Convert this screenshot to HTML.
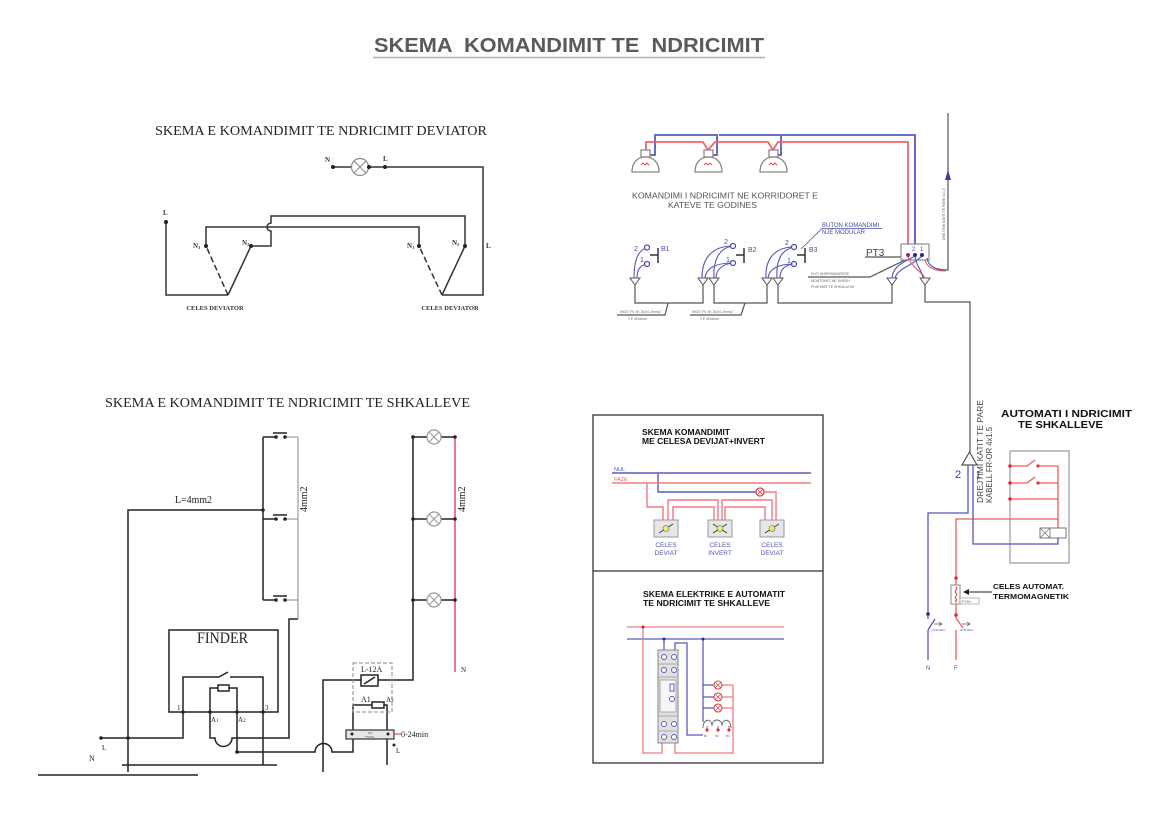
<!DOCTYPE html>
<html><head><meta charset="utf-8"><style>
html,body{margin:0;padding:0;background:#fff;}
svg{display:block;}
.ser{font-family:"Liberation Serif",serif;}
.san{font-family:"Liberation Sans",sans-serif;}
</style></head><body>
<svg width="1170" height="815" viewBox="0 0 1170 815" xmlns="http://www.w3.org/2000/svg">
<rect width="1170" height="815" fill="#fff"/>

<!-- Title -->
<text x="374" y="52" class="san" font-size="20" font-weight="bold" fill="#5a5a5a" style="white-space:pre" textLength="390" lengthAdjust="spacingAndGlyphs">SKEMA  KOMANDIMIT TE  NDRICIMIT</text>
<line x1="373" y1="57.5" x2="765" y2="57.5" stroke="#b0b0b0" stroke-width="1.5"/>

<!-- ============ DEVIATOR ============ -->
<text x="155" y="135" class="ser" font-size="14" fill="#222" textLength="332" lengthAdjust="spacingAndGlyphs">SKEMA E KOMANDIMIT TE NDRICIMIT DEVIATOR</text>
<g stroke="#333" stroke-width="1.5" fill="none">
  <line x1="333" y1="167" x2="351.5" y2="167"/>
  <path d="M368.5,167 H483 V295 H442"/>
  <path d="M166,222 V295 H228"/>
  <path d="M228,295 L251,246"/>
  <path d="M228,295 L206,246" stroke-dasharray="6,3"/>
  <path d="M206,246 V227 H419 V246"/>
  <path d="M251,246 H271 V231 A4,4 0 0 1 271,223 V216 H465 V246"/>
  <path d="M442,295 L465,246"/>
  <path d="M442,295 L419,246" stroke-dasharray="6,3"/>
</g>
<circle cx="360" cy="167" r="8.5" fill="#fff" stroke="#888" stroke-width="1.2"/>
<path d="M354,161 L366,173 M366,161 L354,173" stroke="#888" stroke-width="1"/>
<g fill="#222">
  <circle cx="333" cy="167" r="2"/><circle cx="369" cy="167" r="2"/><circle cx="385" cy="167" r="2"/>
  <circle cx="166" cy="222" r="2"/><circle cx="206" cy="246" r="2"/><circle cx="251" cy="246" r="2"/>
  <circle cx="419" cy="246" r="2"/><circle cx="465" cy="246" r="2"/>
</g>
<g class="ser" font-size="7" font-weight="bold" fill="#333">
  <text x="325" y="162">N</text><text x="383" y="161">L</text><text x="163" y="215">L</text>
  <text x="193" y="248">N<tspan font-size="4.5" dy="1">1</tspan></text>
  <text x="242" y="245">N<tspan font-size="4.5" dy="1">2</tspan></text>
  <text x="407" y="248">N<tspan font-size="4.5" dy="1">1</tspan></text>
  <text x="452" y="245">N<tspan font-size="4.5" dy="1">2</tspan></text>
  <text x="486" y="248">L</text>
  <text x="215" y="310" font-size="6.5" text-anchor="middle">CELES DEVIATOR</text>
  <text x="450" y="310" font-size="6.5" text-anchor="middle">CELES DEVIATOR</text>
</g>

<!-- ============ SHKALLEVE (left) ============ -->
<text x="105" y="407" class="ser" font-size="14" fill="#222" textLength="365" lengthAdjust="spacingAndGlyphs">SKEMA E KOMANDIMIT TE NDRICIMIT TE SHKALLEVE</text>
<g stroke="#222" stroke-width="1.5" fill="none">
  <line x1="263" y1="437" x2="263" y2="600"/>
  <line x1="263" y1="437" x2="276" y2="437"/><line x1="263" y1="519" x2="276" y2="519"/><line x1="263" y1="600" x2="276" y2="600"/>
  <line x1="273" y1="433" x2="287" y2="433"/><line x1="273" y1="515" x2="287" y2="515"/><line x1="273" y1="596" x2="287" y2="596"/>
  <path d="M128,772 V510 H263"/>
  <rect x="169" y="630" width="109" height="82"/>
  <path d="M183,712 V677 H219 M219,677 L228,672 M230,677 H263 V765"/>
  <path d="M210,712 V688 H218 M229,688 H237 V752 H315 A8.5,8.5 0 0 1 332,752 H353 V705 H372 M384,705 H387 V765"/>
  <rect x="218" y="685" width="11" height="6"/>
  <rect x="372" y="702" width="12" height="6"/>
  <path d="M210,712 V738 H215 A8.5,8.5 0 0 0 232,738 H289 V619 H298"/>
  <path d="M101,738 H183 V712"/>
  <line x1="122" y1="765" x2="277" y2="765"/>
  <line x1="38" y1="775" x2="198" y2="775"/>
  <path d="M323,772 V680 H361 M378,680 H413 V437"/>
  <rect x="361" y="675" width="17" height="11"/>
  <path d="M364,684 L375,677"/>
  <line x1="413" y1="437" x2="427" y2="437"/><line x1="441" y1="437" x2="455" y2="437"/>
  <line x1="413" y1="519" x2="427" y2="519"/><line x1="441" y1="519" x2="455" y2="519"/>
  <line x1="413" y1="600" x2="427" y2="600"/><line x1="441" y1="600" x2="455" y2="600"/>
</g>
<g stroke="#888" stroke-width="1" fill="none">
  <line x1="286" y1="437" x2="298" y2="437"/><line x1="286" y1="519" x2="298" y2="519"/><line x1="286" y1="600" x2="298" y2="600"/>
  <line x1="298" y1="437" x2="298" y2="619"/>
  <rect x="353" y="663" width="39" height="49" stroke-dasharray="4,2"/>
</g>
<rect x="346" y="730" width="48" height="9" fill="#e6e6e6" stroke="#333" stroke-width="1.2"/>
<text x="370" y="734" class="ser" font-size="3" fill="#555" text-anchor="middle">220</text>
<text x="370" y="738" class="ser" font-size="3" fill="#555" text-anchor="middle">FS0001</text>
<line x1="394" y1="734" x2="401" y2="734" stroke="#e8457a" stroke-width="1.2"/>
<line x1="455" y1="437" x2="455" y2="672" stroke="#e8457a" stroke-width="1.5"/>
<g fill="#fff" stroke="#999" stroke-width="1.2">
  <circle cx="434" cy="437" r="7"/><circle cx="434" cy="519" r="7"/><circle cx="434" cy="600" r="7"/>
</g>
<path d="M429,432 L439,442 M439,432 L429,442 M429,514 L439,524 M439,514 L429,524 M429,595 L439,605 M439,595 L429,605" stroke="#999" stroke-width="1"/>
<g fill="#222">
  <circle cx="276" cy="437" r="1.8"/><circle cx="285" cy="437" r="1.8"/>
  <circle cx="276" cy="519" r="1.8"/><circle cx="285" cy="519" r="1.8"/>
  <circle cx="276" cy="600" r="1.8"/><circle cx="285" cy="600" r="1.8"/>
  <circle cx="263" cy="510" r="1.8"/>
  <circle cx="183" cy="712" r="1.8"/><circle cx="210" cy="712" r="1.8"/><circle cx="237" cy="712" r="1.8"/><circle cx="263" cy="712" r="1.8"/>
  <circle cx="101" cy="738" r="1.8"/><circle cx="128" cy="738" r="1.8"/><circle cx="237" cy="752" r="1.8"/>
  <circle cx="413" cy="437" r="1.8"/><circle cx="455" cy="437" r="1.8"/>
  <circle cx="413" cy="519" r="1.8"/><circle cx="455" cy="519" r="1.8"/>
  <circle cx="413" cy="600" r="1.8"/><circle cx="455" cy="600" r="1.8"/>
  <circle cx="352" cy="734" r="1.5"/><circle cx="388" cy="734" r="1.5"/>
  <circle cx="394" cy="745" r="1.5"/>
</g>
<g class="ser" fill="#222">
  <text x="175" y="503" font-size="10" textLength="37" lengthAdjust="spacingAndGlyphs">L=4mm2</text>
  <text x="197" y="643" font-size="16" textLength="51" lengthAdjust="spacingAndGlyphs">FINDER</text>
  <text x="177" y="710" font-size="7">1</text>
  <text x="211" y="722" font-size="7">A<tspan font-size="5">1</tspan></text>
  <text x="238" y="722" font-size="7">A<tspan font-size="5">2</tspan></text>
  <text x="265" y="710" font-size="7">3</text>
  <text x="102" y="750" font-size="7">L</text>
  <text x="89" y="761" font-size="8">N</text>
  <text x="361" y="672" font-size="8">L-12A</text>
  <text x="361" y="702" font-size="8">A1</text>
  <text x="386" y="702" font-size="7">A<tspan font-size="5">2</tspan></text>
  <text x="401" y="737" font-size="8">0-24min</text>
  <text x="396" y="753" font-size="7">L</text>
  <text x="461" y="672" font-size="7">N</text>
  <text transform="translate(307,512) rotate(-90)" font-size="10">4mm2</text>
  <text transform="translate(465,512) rotate(-90)" font-size="10">4mm2</text>
</g>

<!-- ============ TOP RIGHT: KORRIDORET ============ -->
<g fill="none" stroke-width="1.8">
  <path d="M650,155 H655 V135 H717 V155 H712 M719,135 H781 V155 H776 M781,135 H915 V255" stroke="#5a5ac0"/>
  <path d="M646,150 V142 H703 L708,150 L715,142 H768 L773,150 L778,142 H908 V256" stroke="#f26272"/>
</g>
<g fill="#fff" stroke="#888" stroke-width="1.3">
  <rect x="641" y="150" width="9" height="7"/><path d="M632,172 C632,162 638,157 645.5,157 C653,157 659,162 659,172 Z"/>
  <rect x="704" y="150" width="9" height="7"/><path d="M695,172 C695,162 701,157 708.5,157 C716,157 722,162 722,172 Z"/>
  <rect x="769" y="150" width="9" height="7"/><path d="M760,172 C760,162 766,157 773.5,157 C781,157 787,162 787,172 Z"/>
</g>
<path d="M641,165 l2,-2 l2,2 l2,-2 l2,2 M704,165 l2,-2 l2,2 l2,-2 l2,2 M769,165 l2,-2 l2,2 l2,-2 l2,2" stroke="#e04040" stroke-width="0.9" fill="none"/>
<text x="632" y="198.5" class="san" font-size="8.5" fill="#555" textLength="186" lengthAdjust="spacingAndGlyphs">KOMANDIMI I NDRICIMIT NE KORRIDORET E</text>
<text x="668" y="208" class="san" font-size="8.5" fill="#555" textLength="89" lengthAdjust="spacingAndGlyphs">KATEVE TE GODINES</text>

<!-- buttons -->
<g stroke="#333" stroke-width="1.5" fill="none">
  <path d="M650,255 H658 M658,248 V263"/>
  <path d="M736,255 H744 M744,248 V263"/>
  <path d="M797,255 H805 M805,248 V263"/>
</g>
<g stroke="#5555bb" stroke-width="1.1" fill="none">
  <path d="M647,248 C637,250 634,262 634,278"/>
  <path d="M647,264 C640,265 637,270 637,278"/>
  <path d="M733,246 C712,246 702,258 702,278"/>
  <path d="M733,246 C718,248 713,262 714,278"/>
  <path d="M733,263 C716,263 706,268 705,278"/>
  <path d="M733,263 C722,264 716,270 716,278"/>
  <path d="M794,247 C774,247 765,260 766,278"/>
  <path d="M794,247 C780,250 776,262 777,278"/>
  <path d="M794,264 C778,264 769,269 768,278"/>
  <path d="M794,264 C784,265 780,270 780,278"/>
</g>
<g fill="#fff" stroke="#4a4aa8" stroke-width="1.2">
  <circle cx="647" cy="247.5" r="2.5"/><circle cx="647" cy="264" r="2.5"/>
  <circle cx="733" cy="246" r="2.5"/><circle cx="733" cy="263" r="2.5"/>
  <circle cx="794" cy="247" r="2.5"/><circle cx="794" cy="264" r="2.5"/>
</g>
<g class="san" font-size="7" fill="#4a4aa8">
  <text x="634" y="251">2</text><text x="640" y="262">1</text><text x="661" y="251">B1</text>
  <text x="724" y="244">2</text><text x="726" y="262">1</text><text x="748" y="252">B2</text>
  <text x="785" y="245">2</text><text x="787" y="263">1</text><text x="809" y="252">B3</text>
</g>
<!-- triangles -->
<g fill="#fff" stroke="#555" stroke-width="1">
  <path d="M630,278 H640 L635,285 Z"/><path d="M698,278 H708 L703,285 Z"/><path d="M709,278 H719 L714,285 Z"/>
  <path d="M762,278 H772 L767,285 Z"/><path d="M773,278 H783 L778,285 Z"/><path d="M887,278 H897 L892,285 Z"/>
  <path d="M920,278 H930 L925,285 Z"/>
</g>
<g stroke="#555" stroke-width="1.2" fill="none">
  <path d="M635,285 V303 H703 V285 M714,285 V303 H767 V285 M778,285 V303 H892 V285"/>
  <path d="M925,285 V302 H970 V452"/>
  <path d="M668,303 L665,315 H617 M745,303 L741,315 H690"/>
  <path d="M905,260 L870,277 H808"/>
  <path d="M865,257 H901"/>
  <path d="M948,113 V270 H937"/>
</g>
<g class="san" font-size="3.5" fill="#666">
  <text x="620" y="313">INGO FV 4K 3x2x1.5mm2</text><text x="628" y="320">T.P. Ø16mm</text>
  <text x="692" y="313">INGO FV 4K 3x2x1.5mm2</text><text x="700" y="320">T.P. Ø16mm</text>
  <text x="811" y="275">KUTI SHPERNDARESE</text><text x="811" y="282">MONTOHET NE SHESH</text><text x="811" y="288">PUSHIMIT TE SHKALLEVE</text>
  <text transform="translate(945,240) rotate(-90)">DREJTIMI KATIT TE PARE 4x1.5</text>
</g>
<path d="M948,170 L945,180 H951 Z" fill="#3a3aa0"/>
<g class="san" fill="#4a4aa8">
  <text x="822" y="227" font-size="6">BUTON KOMANDIMI</text>
  <text x="822" y="234" font-size="6">NJE MODULAR</text>
</g>
<path d="M822,228.5 H882 M822,228.5 L801,249" stroke="#4a4aa8" stroke-width="0.8" fill="none"/>
<rect x="901" y="244" width="28" height="16" fill="#fff" stroke="#777" stroke-width="1"/>
<text x="866" y="256" class="san" font-size="10" fill="#444">PT3</text>
<g fill="none" stroke-width="1.1">
  <path d="M915,256 C905,262 893,265 892,278" stroke="#5555bb"/>
  <path d="M922,256 C912,266 898,268 895,278" stroke="#5555bb"/>
  <path d="M908,256 C910,266 920,270 925,278" stroke="#f05a5a"/>
  <path d="M915,256 C916,266 922,270 923,278" stroke="#5555bb"/>
  <path d="M927,258 C928,266 935,270 948,270" stroke="#5555bb"/>
  <path d="M925,260 C927,268 935,271 946,271" stroke="#f05a5a"/>
</g>
<circle cx="908" cy="255" r="2" fill="#c02040"/><circle cx="915" cy="255" r="2" fill="#2a2a90"/><circle cx="922" cy="255" r="2" fill="#2a2a90"/>
<text x="912" y="251" class="san" font-size="6" fill="#4a4aa8">2</text><text x="920" y="251" class="san" font-size="6" fill="#4a4aa8">1</text>

<!-- ============ MIDDLE BOX ============ -->
<rect x="593" y="415" width="230" height="348" fill="none" stroke="#333" stroke-width="1.3"/>
<line x1="593" y1="571" x2="823" y2="571" stroke="#333" stroke-width="1.3"/>
<g class="san" font-weight="bold" font-size="8" fill="#111">
  <text x="642" y="435" textLength="88" lengthAdjust="spacingAndGlyphs">SKEMA KOMANDIMIT</text>
  <text x="642" y="444" textLength="123" lengthAdjust="spacingAndGlyphs">ME CELESA DEVIJAT+INVERT</text>
  <text x="643" y="597" textLength="142" lengthAdjust="spacingAndGlyphs">SKEMA ELEKTRIKE E AUTOMATIT</text>
  <text x="643" y="606" textLength="127" lengthAdjust="spacingAndGlyphs">TE NDRICIMIT TE SHKALLEVE</text>
</g>
<text x="614" y="471" class="san" font-size="5.5" fill="#5555bb">NUL</text>
<text x="614" y="481" class="san" font-size="5.5" fill="#f05a5a">FAZE</text>
<g fill="none" stroke-width="1.4">
  <path d="M612,473 H811 M658,473 V492 H756" stroke="#5a5ac0"/>
  <path d="M612,483 H811 M764,492 H776 V520 M647,483 V507 H663 V520 M668,520 V500 H718 V520 M673,520 V507 H714 V520 M725,520 V507 H765 V520 M722,520 V500 H772 V520" stroke="#f47a82"/>
</g>
<circle cx="760" cy="492" r="4" fill="#fff" stroke="#e04040" stroke-width="1.2"/>
<path d="M757,489 L763,495 M763,489 L757,495" stroke="#e04040" stroke-width="0.8"/>
<g fill="#e6e6e6" stroke="#999" stroke-width="1">
  <rect x="654" y="520" width="24" height="17"/><rect x="708" y="520" width="24" height="17"/><rect x="760" y="520" width="24" height="17"/>
</g>
<g stroke="#333" stroke-width="0.8" fill="none">
  <path d="M659,533 L673,524 M713,533 L727,524 M713,524 L727,533 M765,533 L779,524"/>
</g>
<g fill="#ee6" stroke="#666" stroke-width="0.6">
  <circle cx="666" cy="528.5" r="3"/><circle cx="720" cy="528.5" r="3"/><circle cx="772" cy="528.5" r="3"/>
</g>
<g class="san" font-size="6.5" fill="#5555bb" text-anchor="middle">
  <text x="666" y="547">CELES</text><text x="666" y="555">DEVIAT</text>
  <text x="720" y="547">CELES</text><text x="720" y="555">INVERT</text>
  <text x="772" y="547">CELES</text><text x="772" y="555">DEVIAT</text>
</g>
<!-- lower -->
<g fill="none" stroke-width="1.3">
  <path d="M627,627 H784" stroke="#f47a82"/>
  <path d="M627,639 H784" stroke="#5a5ac0"/>
  <path d="M643,627 V753 H662 V743 M722,685 H733 M722,697 H733 M722,708 H733 M733,685 V753 H675 V743" stroke="#f47a82"/>
  <path d="M664,639 V650 M675,650 V643 H687 V735 H703 M703,639 V722 M703,685 H714 M703,697 H714 M703,708 H714" stroke="#5a5ac0"/>
  <path d="M703,728 C703,718 712,718 712,726 C712,718 722,718 722,726 C722,718 731,718 731,728 M707,730 V726 M718,730 V726 M729,730 V726" stroke="#666" stroke-width="0.9"/>
</g>
<circle cx="643" cy="627" r="1.5" fill="#c02040"/>
<circle cx="664" cy="639" r="1.5" fill="#2a2a90"/><circle cx="703" cy="639" r="1.5" fill="#2a2a90"/>
<rect x="658" y="650" width="20" height="93" fill="#e0e0e0" stroke="#888" stroke-width="1"/>
<rect x="660" y="680" width="16" height="32" fill="#f6f6f6" stroke="#999" stroke-width="0.8"/>
<g stroke="#999" stroke-width="0.7"><line x1="658" y1="664" x2="678" y2="664"/><line x1="658" y1="677" x2="678" y2="677"/><line x1="658" y1="716" x2="678" y2="716"/><line x1="658" y1="731" x2="678" y2="731"/></g>
<g fill="#fff" stroke="#5555bb" stroke-width="0.9">
  <circle cx="664" cy="657" r="2.5"/><circle cx="674" cy="657" r="2.5"/><circle cx="664" cy="670" r="2.5"/><circle cx="674" cy="670" r="2.5"/>
  <circle cx="664" cy="724" r="2.5"/><circle cx="674" cy="724" r="2.5"/><circle cx="664" cy="737" r="2.5"/><circle cx="674" cy="737" r="2.5"/>
  <circle cx="672" cy="699" r="2.5"/><rect x="670" y="684" width="4" height="7"/>
</g>
<g fill="#fff" stroke="#e04040" stroke-width="1.1">
  <circle cx="718" cy="685" r="4"/><circle cx="718" cy="697" r="4"/><circle cx="718" cy="708" r="4"/>
</g>
<path d="M715,682 L721,688 M721,682 L715,688 M715,694 L721,700 M721,694 L715,700 M715,705 L721,711 M721,705 L715,711" stroke="#e04040" stroke-width="0.7"/>
<circle cx="707" cy="730" r="1.6" fill="#e03030"/><circle cx="718" cy="730" r="1.6" fill="#e03030"/><circle cx="729" cy="730" r="1.6" fill="#e03030"/>
<g class="san" font-size="3" fill="#5555bb"><text x="704" y="737">B1</text><text x="715" y="737">B2</text><text x="726" y="737">B3</text></g>

<!-- ============ AUTOMATI (right) ============ -->
<g class="san" font-weight="bold" fill="#111">
  <text x="1001" y="417" font-size="10.5" textLength="131" lengthAdjust="spacingAndGlyphs">AUTOMATI I NDRICIMIT</text>
  <text x="1018" y="428" font-size="10.5" textLength="85" lengthAdjust="spacingAndGlyphs">TE SHKALLEVE</text>
  <text x="993" y="589" font-size="7.5" textLength="71" lengthAdjust="spacingAndGlyphs">CELES AUTOMAT.</text>
  <text x="993" y="599" font-size="7.5" textLength="76" lengthAdjust="spacingAndGlyphs">TERMOMAGNETIK</text>
</g>
<rect x="1010" y="451" width="59" height="112" fill="none" stroke="#999" stroke-width="1.2"/>
<g fill="none" stroke="#f05a5a" stroke-width="1.3">
  <path d="M1010,466 H1027 L1035,460 M1038,466 H1058 M1010,483 H1027 L1035,477 M1038,483 H1058 M1010,499 H1058 M1058,466 V528"/>
  <path d="M1058,519 H956 V585 M956,604 V618 L963,628 M956,630 V660"/>
</g>
<g fill="#e03030">
  <circle cx="1010" cy="466" r="1.8"/><circle cx="1010" cy="483" r="1.8"/><circle cx="1010" cy="499" r="1.8"/>
  <circle cx="1038" cy="466" r="1.6"/><circle cx="1038" cy="483" r="1.6"/>
  <circle cx="956" cy="578" r="1.8"/><circle cx="956" cy="615" r="1.8"/>
</g>
<rect x="1040" y="528" width="26" height="10" fill="#fff" stroke="#777" stroke-width="1"/>
<path d="M1050,528 V538 M1040,528 L1050,538 M1050,528 L1040,538" stroke="#777" stroke-width="0.8"/>
<g fill="none" stroke="#5555bb" stroke-width="1.3">
  <path d="M928,614 V513 H968 V465"/>
  <path d="M973,465 V544 H1058 V538"/>
  <path d="M928,614 V619 M928,630 L935,619 M928,630 V660"/>
</g>
<circle cx="928" cy="614" r="1.8" fill="#2a2a90"/>
<line x1="970" y1="302" x2="970" y2="452" stroke="#666" stroke-width="1.2"/>
<path d="M962,465 H977 L969.5,452 Z" fill="#fff" stroke="#555" stroke-width="1.2"/>
<rect x="951" y="585" width="9" height="19" fill="#fff" stroke="#888" stroke-width="1"/>
<path d="M956,587 c3,2 -3,4 0,6 c3,2 -3,4 0,6 c3,2 -3,2 0,3" stroke="#e03030" stroke-width="1" fill="none"/>
<rect x="960" y="598" width="19" height="6" fill="#fff" stroke="#888" stroke-width="0.6"/>
<path d="M992,592 H968" stroke="#222" stroke-width="1"/><path d="M963,592 L969,589 V595 Z" fill="#222"/>
<g stroke="#555" stroke-width="0.7" fill="none"><path d="M934,624 H942 M939,622 L942,624 L939,626 M962,624 H970 M967,622 L970,624 L967,626"/></g>
<g class="san" font-size="3" fill="#5555bb"><text x="932" y="631">2P10/6kA</text><text x="960" y="631">2P10/6kA</text><text x="961" y="602.5" font-size="2.5">2P 6/6kA</text></g>
<g class="san" font-size="6" fill="#5555bb"><text x="926" y="670">N</text><text x="954" y="670">F</text></g>
<text x="955" y="478" class="san" font-size="11" fill="#3a3aa0">2</text>
<text x="976" y="478" class="san" font-size="9" fill="#3a3aa0">1</text>
<g class="san" font-size="8" fill="#444">
  <text transform="translate(983,503) rotate(-90)" textLength="103" lengthAdjust="spacingAndGlyphs">DREJTIMI KATIT TE PARE</text>
  <text transform="translate(992,503) rotate(-90)" textLength="76" lengthAdjust="spacingAndGlyphs">KABELL FR-OR 4x1.5</text>
</g>
</svg>
</body></html>
